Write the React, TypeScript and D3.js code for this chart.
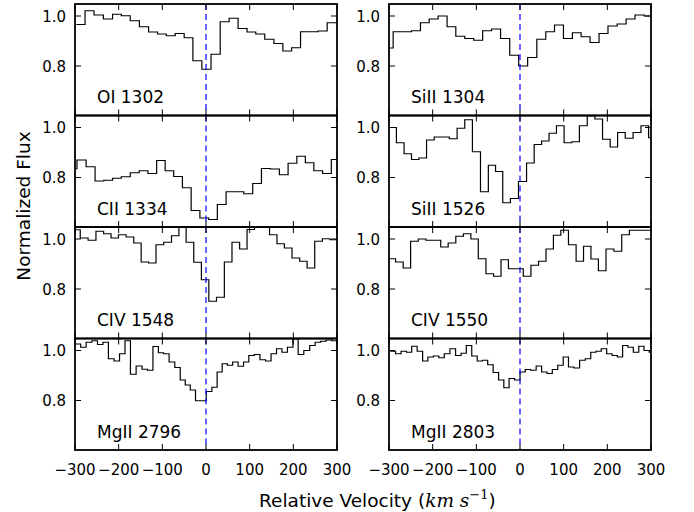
import { useRef, useEffect } from "react";
import * as d3 from "d3";

// velocity bin centres (km/s) and normalized flux
const oi1302Vel = [-287, -267, -246, -224, -204, -184, -163, -142, -121, -101, -81, -60, -40, -20, 1, 22, 43, 63, 84, 104, 124, 145, 166, 186, 206, 227, 247, 267, 288];
const oi1302Flux = [0.966, 1.021, 1.004, 0.988, 1.007, 1.001, 0.981, 0.957, 0.936, 0.928, 0.921, 0.930, 0.913, 0.821, 0.787, 0.847, 0.977, 0.991, 0.950, 0.936, 0.928, 0.907, 0.890, 0.860, 0.873, 0.937, 0.937, 0.940, 0.973];

const siii1304Vel = [-301, -280, -259, -238, -218, -198, -177, -157, -137, -116, -96, -75, -55, -34, -13, 7, 28, 49, 69, 89, 110, 130, 150, 171, 191, 212, 233, 253, 274, 295];
const siii1304Flux = [0.872, 0.937, 0.937, 0.941, 0.973, 0.988, 1.0, 0.957, 0.919, 0.910, 0.903, 0.941, 0.948, 0.910, 0.843, 0.800, 0.834, 0.907, 0.937, 0.964, 0.910, 0.933, 0.917, 0.894, 0.930, 0.960, 0.968, 0.988, 1.004, 1.0];

const cii1334Vel = [-306, -285, -264, -244, -224, -204, -184, -163, -143, -123, -103, -84, -64, -44, -24, -4, 16, 36, 56, 76, 97, 117, 137, 158, 178, 198, 218, 237, 257, 277, 297];
const cii1334Flux = [0.835, 0.870, 0.843, 0.786, 0.789, 0.797, 0.803, 0.819, 0.827, 0.816, 0.868, 0.827, 0.804, 0.759, 0.668, 0.638, 0.632, 0.692, 0.743, 0.743, 0.735, 0.776, 0.836, 0.834, 0.811, 0.857, 0.885, 0.859, 0.827, 0.816, 0.872];

const siii1526Vel = [-292, -274, -257, -240, -223, -205, -188, -171, -153, -135, -118, -100, -81, -64, -48, -31, -13, 6, 24, 41, 58, 75, 92, 110, 127, 145, 163, 180, 198, 215, 232, 250, 268, 286, 303];
const siii1526Flux = [1.0, 0.939, 0.895, 0.872, 0.878, 0.950, 0.962, 0.962, 0.955, 0.997, 1.031, 0.903, 0.743, 0.849, 0.824, 0.699, 0.716, 0.784, 0.858, 0.932, 0.946, 0.977, 1.007, 0.939, 0.943, 1.007, 1.047, 1.034, 0.953, 0.922, 0.980, 0.957, 0.980, 1.007, 0.959];

const civ1548Vel = [-297, -279, -261, -243, -226, -209, -192, -174, -157, -140, -123, -106, -88, -70, -54, -37, -19, -2, 15, 33, 51, 68, 86, 102, 120, 137, 154, 171, 188, 206, 223, 240, 258, 275, 292];
const civ1548Flux = [1.037, 1.004, 0.995, 1.031, 1.021, 1.004, 1.017, 1.008, 0.984, 0.908, 0.904, 0.977, 0.987, 1.013, 1.08, 0.987, 0.907, 0.837, 0.751, 0.767, 0.908, 0.987, 0.960, 1.038, 1.08, 1.08, 1.017, 0.981, 0.964, 0.924, 0.911, 0.884, 0.991, 1.001, 0.997];

const civ1550Vel = [-294, -276, -259, -242, -224, -207, -190, -173, -156, -138, -121, -104, -87, -69, -52, -35, -18, -1, 16, 34, 51, 68, 85, 102, 120, 137, 154, 171, 188, 206, 224, 242, 259, 276, 294];
const civ1550Flux = [0.921, 0.908, 0.884, 0.991, 1.0, 0.995, 0.995, 0.968, 0.984, 1.011, 1.021, 1.0, 0.921, 0.861, 0.851, 0.917, 0.881, 0.881, 0.851, 0.895, 0.911, 0.960, 1.015, 1.035, 0.977, 0.911, 0.971, 0.920, 0.873, 0.960, 0.951, 1.017, 1.035, 1.035, 1.035];

const mgii2796Vel = [-293, -281, -268, -255, -242, -230, -217, -204, -192, -179, -167, -153, -140, -128, -115, -103, -91, -78, -65, -53, -42, -30, -18, -6, 7, 20, 31, 43, 55, 67, 80, 92, 104, 117, 130, 143, 155, 168, 180, 193, 205, 217, 231, 244, 256, 269, 281, 294];
const mgii2796Flux = [1.026, 1.013, 1.033, 1.039, 1.024, 1.033, 0.967, 0.958, 0.987, 1.039, 0.905, 0.938, 0.925, 0.921, 1.016, 0.991, 0.987, 0.954, 0.932, 0.882, 0.862, 0.842, 0.799, 0.799, 0.836, 0.853, 0.914, 0.947, 0.941, 0.954, 0.937, 0.954, 0.980, 0.984, 0.963, 0.958, 0.987, 1.007, 0.993, 1.013, 1.046, 0.984, 1.0, 1.020, 1.033, 1.037, 1.042, 1.039];

const mgii2803Vel = [-291, -279, -266, -254, -242, -229, -217, -205, -192, -180, -167, -154, -141, -129, -117, -104, -92, -80, -68, -55, -43, -31, -19, -6, 6, 18, 31, 43, 56, 68, 80, 93, 105, 117, 130, 143, 156, 168, 180, 192, 205, 217, 229, 241, 253, 266, 278, 290, 302];
const mgii2803Flux = [0.997, 0.987, 0.997, 0.993, 1.017, 0.997, 0.958, 0.974, 0.978, 0.971, 0.987, 1.007, 0.980, 0.989, 1.020, 0.978, 0.958, 0.961, 0.943, 0.912, 0.882, 0.851, 0.888, 0.882, 0.914, 0.924, 0.921, 0.938, 0.914, 0.908, 0.924, 0.941, 0.974, 0.934, 0.930, 0.961, 0.967, 0.993, 0.997, 1.007, 0.987, 0.980, 0.974, 1.020, 1.013, 0.993, 1.017, 1.0, 0.993];

const lineLabels = ["OI 1302", "SiII 1304", "CII 1334", "SiII 1526", "CIV 1548", "CIV 1550", "MgII 2796", "MgII 2803"];
const xTicks = [-300, -200, -100, 0, 100, 200, 300];
const yTicks = [0.8, 1.0];

const panels = [
    [oi1302Vel, oi1302Flux], [siii1304Vel, siii1304Flux],
    [cii1334Vel, cii1334Flux], [siii1526Vel, siii1526Flux],
    [civ1548Vel, civ1548Flux], [civ1550Vel, civ1550Flux],
    [mgii2796Vel, mgii2796Flux], [mgii2803Vel, mgii2803Flux],
].map(([vel, flux], i) => ({ label: lineLabels[i], vel, flux }));

const font = "DejaVu Sans, sans-serif";

function drawChart(svgRef: any) {
    const width = 694, height = 512;
    const colLeft = [75, 389], colW = 262;
    const top = 4, rowH = 111.5;

    const svg = d3.select(svgRef.current);
    svg.selectAll("*").remove();
    svg.attr("width", width).attr("height", height);

    svg.append("rect").attr("width", width).attr("height", height).attr("fill", "#fff");

    panels.forEach((p, i) => {
        const col = i % 2, row = Math.floor(i / 2);
        const x0 = colLeft[col], y0 = top + row * rowH;
        const x = d3.scaleLinear().domain([-300, 300]).range([x0, x0 + colW]);
        const y = d3.scaleLinear().domain([0.602, 1.048]).range([y0 + rowH, y0]);
        const g = svg.append("g");

        const clipId = `clip${i}`;
        svg.append("clipPath").attr("id", clipId)
            .append("rect").attr("x", x0).attr("y", y0).attr("width", colW).attr("height", rowH);

        // step line, first and last bins drawn full width
        const pts: [number, number][] = p.vel.map((v, k) => [v, p.flux[k]]);
        const n = pts.length;
        pts.unshift([p.vel[0] - (p.vel[1] - p.vel[0]) / 2, p.flux[0]]);
        pts.push([p.vel[n - 1] + (p.vel[n - 1] - p.vel[n - 2]) / 2, p.flux[n - 1]]);
        const line = d3.line<[number, number]>()
            .x(d => x(d[0])).y(d => y(d[1]))
            .curve(d3.curveStep);

        g.append("path")
            .attr("clip-path", `url(#${clipId})`)
            .attr("d", line(pts))
            .attr("fill", "none")
            .attr("stroke", "#000")
            .attr("stroke-width", 1.2);

        g.append("line")
            .attr("x1", x(0)).attr("x2", x(0))
            .attr("y1", y0).attr("y2", y0 + rowH)
            .attr("stroke", "#0000ff")
            .attr("stroke-width", 1.2)
            .attr("stroke-dasharray", "6,4");

        // ticks, inward on all four sides
        xTicks.forEach(t => {
            g.append("line").attr("x1", x(t)).attr("x2", x(t)).attr("y1", y0 + rowH).attr("y2", y0 + rowH - 6).attr("stroke", "#000");
            g.append("line").attr("x1", x(t)).attr("x2", x(t)).attr("y1", y0).attr("y2", y0 + 6).attr("stroke", "#000");
        });
        yTicks.forEach(t => {
            g.append("line").attr("x1", x0).attr("x2", x0 + 6).attr("y1", y(t)).attr("y2", y(t)).attr("stroke", "#000");
            g.append("line").attr("x1", x0 + colW).attr("x2", x0 + colW - 6).attr("y1", y(t)).attr("y2", y(t)).attr("stroke", "#000");
            g.append("text")
                .attr("x", x0 - 9).attr("y", y(t) + 5.5)
                .attr("text-anchor", "end")
                .attr("font-family", font).attr("font-size", 15)
                .text(t.toFixed(1));
        });

        if (row === 3) {
            xTicks.forEach(t => {
                g.append("text")
                    .attr("x", x(t)).attr("y", y0 + rowH + 25)
                    .attr("text-anchor", "middle")
                    .attr("font-family", font).attr("font-size", 15)
                    .text(t < 0 ? "\u2212" + Math.abs(t) : String(t));
            });
        }

        g.append("rect")
            .attr("x", x0).attr("y", y0).attr("width", colW).attr("height", rowH)
            .attr("fill", "none").attr("stroke", "#000").attr("stroke-width", 1.8);

        g.append("text")
            .attr("x", x0 + 22).attr("y", y0 + 99)
            .attr("font-family", font).attr("font-size", 17)
            .text(p.label);
    });

    svg.append("text")
        .attr("transform", "translate(30,206) rotate(-90)")
        .attr("text-anchor", "middle")
        .attr("font-family", font).attr("font-size", 18.5)
        .text("Normalized Flux");

    const xl = svg.append("text")
        .attr("x", 259).attr("y", 507)
        .attr("font-family", font).attr("font-size", 18.5);
    xl.append("tspan").text("Relative Velocity (");
    xl.append("tspan").attr("font-family", "DejaVu Serif, serif").attr("font-style", "italic").text("km s");
    xl.append("tspan").attr("font-family", "DejaVu Serif, serif").attr("font-size", 13).attr("dy", -8).text("\u22121");
    xl.append("tspan").attr("dy", 8).text(")");
}

export default function App() {
    const svg = useRef(null);
    useEffect(() => {
        drawChart(svg);
    }, [svg]);

    return <svg ref={svg} style={{ position: "absolute", left: 0, top: 0 }} />;
}
